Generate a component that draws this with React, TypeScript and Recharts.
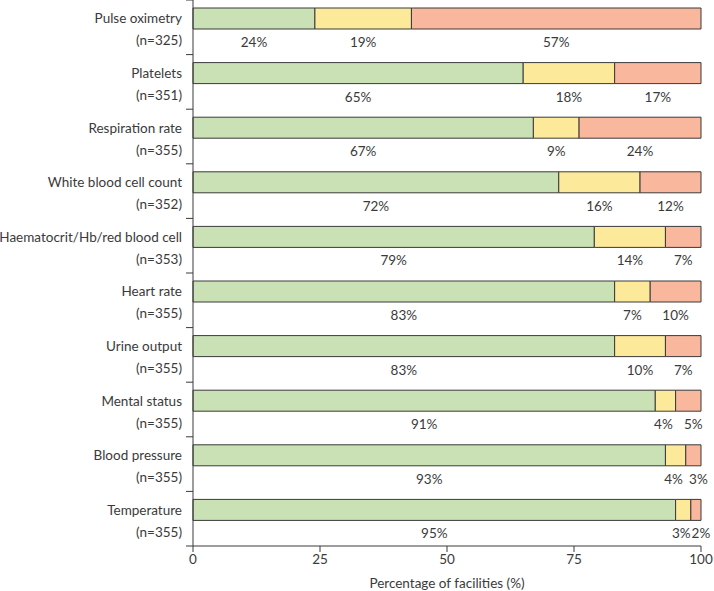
import { BarChart, Bar, XAxis, YAxis, LabelList, Rectangle } from "recharts";

const categories = [
  "Pulse oximetry",
  "Platelets",
  "Respiration rate",
  "White blood cell count",
  "Haematocrit/Hb/red blood cell",
  "Heart rate",
  "Urine output",
  "Mental status",
  "Blood pressure",
  "Temperature",
];
const sampleSizes = [325, 351, 355, 352, 353, 355, 355, 355, 355, 355];
const greenValues = [24, 65, 67, 72, 79, 83, 83, 91, 93, 95];
const yellowValues = [19, 18, 9, 16, 14, 7, 10, 4, 4, 3];
const redValues = [57, 17, 24, 12, 7, 10, 7, 5, 3, 2];
const xTicks = [0, 25, 50, 75, 100];

const data = categories.map((name, i) => ({
  name,
  n: sampleSizes[i],
  green: greenValues[i],
  yellow: yellowValues[i],
  red: redValues[i],
}));

const W = 714;
const H = 591;
const AXIS_H = 45;
const BAND = (H - AXIS_H) / categories.length;
const SHIFT = 9; // bars sit in upper part of each row, label underneath
const FONT = "Lato, sans-serif";
const FS = 13.5;
const INK = "#3a3a3a";

const shiftedBar = (props: any) => <Rectangle {...props} y={props.y - SHIFT} />;

// small segments at the right end get their labels pushed apart a little
const makeLabel = (nudge: (v: number) => number) => (props: any) => {
  const { x, y, width, height, value } = props;
  return (
    <text
      x={x + width / 2 + nudge(value)}
      y={y + height - SHIFT + 13}
      textAnchor="middle"
      dominantBaseline="central"
      fontSize={FS}
      fontFamily={FONT}
      fill={INK}
    >
      {value}%
    </text>
  );
};
const greenLabel = makeLabel(() => 0);
const yellowLabel = makeLabel((v) => (v <= 4 ? -2 : 0));
const redLabel = makeLabel((v) => (v <= 5 ? 5 : 0));

const CategoryTick = (props: any) => {
  const { x, y, payload, index } = props;
  const row = data.find((d) => d.name === payload.value);
  return (
    <g>
      <line x1={x - 7} x2={x} y1={y - BAND / 2} y2={y - BAND / 2} stroke={INK} />
      {index === categories.length - 1 && (
        <line x1={x - 7} x2={x} y1={y + BAND / 2} y2={y + BAND / 2} stroke={INK} />
      )}
      <text
        x={x - 11}
        y={y - 9}
        textAnchor="end"
        dominantBaseline="central"
        fontSize={FS}
        fontFamily={FONT}
        fill={INK}
      >
        {payload.value}
      </text>
      <text
        x={x - 11}
        y={y + 13}
        textAnchor="end"
        dominantBaseline="central"
        fontSize={FS}
        fontFamily={FONT}
        fill={INK}
      >
        (n={row ? row.n : ""})
      </text>
    </g>
  );
};

export default function App() {
  return (
    <div style={{ position: "absolute", left: 0, top: 0, background: "#fff" }}>
      <BarChart
        width={W}
        height={H}
        data={data}
        layout="vertical"
        margin={{ top: 0, right: 13, bottom: 0, left: 0 }}
      >
        <XAxis
          type="number"
          domain={[0, 100]}
          ticks={xTicks}
          tickSize={6}
          tickMargin={2}
          height={AXIS_H}
          stroke={INK}
          tick={{ fontSize: FS, fontFamily: FONT, fill: INK }}
          label={{
            value: "Percentage of facilities (%)",
            position: "insideBottom",
            offset: 3,
            fontSize: FS,
            fontFamily: FONT,
            fill: INK,
          }}
        />
        <YAxis
          type="category"
          dataKey="name"
          width={193}
          tickLine={false}
          tickSize={0}
          tickMargin={0}
          stroke={INK}
          tick={<CategoryTick />}
          interval={0}
        />
        <Bar dataKey="green" stackId="a" fill="#cae0b5" stroke={INK} barSize={21} shape={shiftedBar} isAnimationActive={false}>
          <LabelList dataKey="green" content={greenLabel} />
        </Bar>
        <Bar dataKey="yellow" stackId="a" fill="#fde99a" stroke={INK} barSize={21} shape={shiftedBar} isAnimationActive={false}>
          <LabelList dataKey="yellow" content={yellowLabel} />
        </Bar>
        <Bar dataKey="red" stackId="a" fill="#f9b79d" stroke={INK} barSize={21} shape={shiftedBar} isAnimationActive={false}>
          <LabelList dataKey="red" content={redLabel} />
        </Bar>
      </BarChart>
    </div>
  );
}
